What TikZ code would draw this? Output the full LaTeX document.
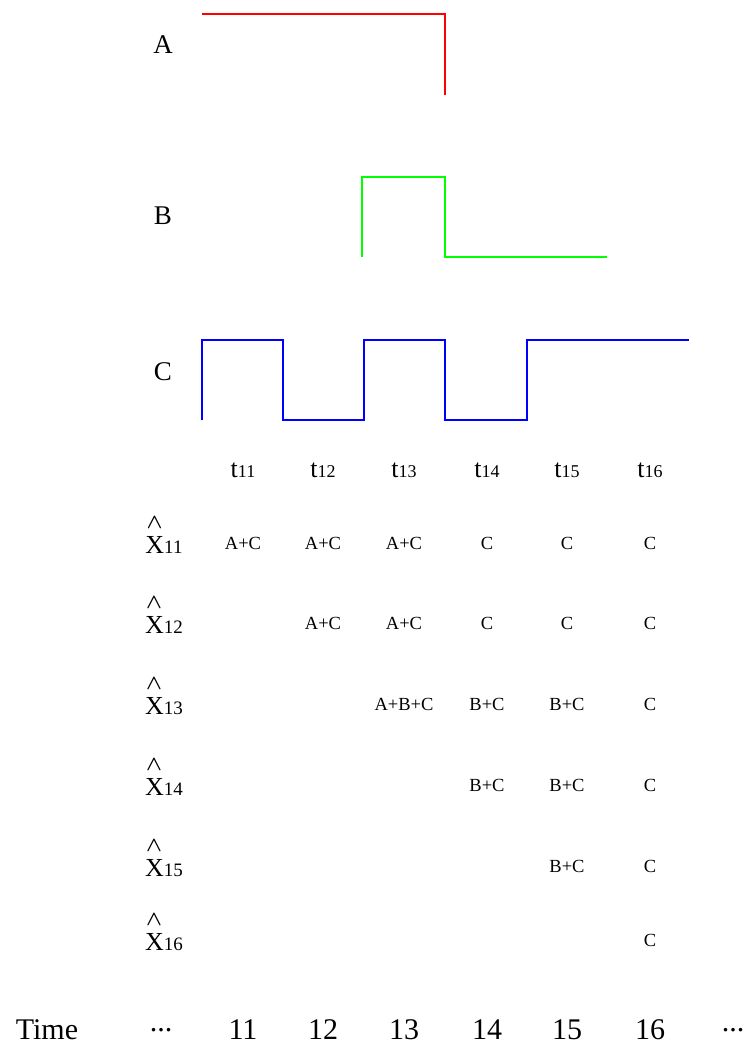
\documentclass[tikz,border=0pt]{standalone}
\usepackage{amsmath}
\usepackage{fontspec}
\setmainfont{Liberation Serif}
\usepackage{tikz}
\newcommand{\xhat}[1]{\rlap{\raisebox{0.95em}{\hspace{0.04em}\fontsize{20}{20}\selectfont$\boldsymbol{\wedge}$}}X{\fontsize{19}{19}\selectfont #1}}

\begin{document}
\begin{tikzpicture}[x=1pt,y=-1pt]
  \tikzset{
    lbl/.style={font=\fontsize{27}{27}\selectfont},
    cell/.style={font=\fontsize{18.5}{18.5}\selectfont},
    hdr/.style={font=\fontsize{26}{26}\selectfont},
    big/.style={font=\fontsize{30}{30}\selectfont},
    wave/.style={line width=1.5pt}
  }
  \useasboundingbox (0,0) rectangle (747,1057);
  % signals
  \node[lbl] (A) at (163,45) {A};
  \node[lbl] (B) at (163,216) {B};
  \node[lbl] (C) at (163,372) {C};
  \draw[wave,red] (202,14) -- (445,14) -- (445,95);
  \draw[wave,green] (362,257) -- (362,177) -- (445,177) -- (445,257) -- (607,257);
  \draw[wave,blue] (202,420) -- (202,340) -- (283,340) -- (283,420) -- (364,420)
    -- (364,340) -- (445,340) -- (445,420) -- (527,420) -- (527,340) -- (689,340);
  % column heads and time axis
  \foreach \i/\x in {11/243,12/323,13/404,14/487,15/567,16/650} {
    \node[hdr] (t\i) at (\x,470) {t{\fontsize{18}{18}\selectfont\i}};
    \node[big] (n\i) at (\x,1030) {\i};
  }
  \node[big] (time) at (47,1030) {Time};
  \node[big] (dl) at (161,1030) {...};
  \node[big] (dr) at (733,1030) {...};
  % estimates
  \foreach \i/\y in {11/543,12/623,13/704,14/785,15/866,16/940} {
    \coordinate (r\i) at (0,\y);
    \node[hdr,anchor=base] (x\i) at (164,\y+10) {\xhat{\i}};
  }
  \foreach \r/\c/\txt in {11/11/A+C,11/12/A+C,11/13/A+C,11/14/C,11/15/C,11/16/C,
                         12/12/A+C,12/13/A+C,12/14/C,12/15/C,12/16/C,
                         13/13/A+B+C,13/14/B+C,13/15/B+C,13/16/C,
                         14/14/B+C,14/15/B+C,14/16/C,
                         15/15/B+C,15/16/C,
                         16/16/C}
    \node[cell] (c\r-\c) at (t\c |- r\r) {\txt};
\end{tikzpicture}
\end{document}
